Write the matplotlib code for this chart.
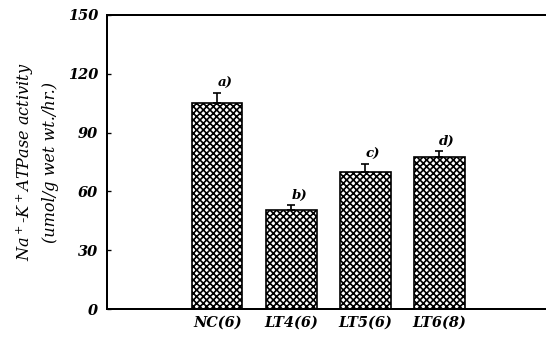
import numpy as np
import matplotlib.pyplot as plt

groups = ['NC(6)', 'LT4(6)', 'LT5(6)', 'LT6(8)']
activity = [105, 50.5, 70, 77.5]
sem = [5, 2.5, 4, 3]
letters = ['a)', 'b)', 'c)', 'd)']
yticks = [0, 30, 60, 90, 120, 150]

DPI = 80
plt.rcParams['hatch.linewidth'] = 1.5
font = dict(family='DejaVu Serif', weight='bold', style='italic')

fig = plt.figure(figsize=(546 / DPI, 340 / DPI), dpi=DPI)
ax = fig.add_axes([0.196, 0.091, 0.804, 0.865])

x = np.arange(len(groups))
ax.bar(x, activity, width=0.68, color='white', edgecolor='black',
       linewidth=1.5, hatch='xxxx', zorder=2)
ax.errorbar(x, activity, yerr=[np.zeros(len(sem)), sem], fmt='none',
            ecolor='black', elinewidth=1.5, capsize=4, capthick=1.5, zorder=3)

for xi, v, s, lab in zip(x, activity, sem, letters):
    ax.annotate(lab, (xi, v + s), xytext=(7, 3), textcoords='offset points',
                ha='center', va='bottom', fontsize=12, **font)

ax.set_xlim(-1.49, 4.44)
ax.set_ylim(0, 150)
ax.set_yticks(yticks)
ax.set_yticklabels([str(t) for t in yticks], fontsize=13, **font)
ax.set_xticks(x)
ax.set_xticklabels(groups, fontsize=13, **font)
ax.tick_params(axis='x', length=0, pad=6)
ax.tick_params(axis='y', direction='in', length=4, width=1.2, pad=8)

ax.spines['right'].set_visible(False)
for s in ['left', 'top', 'bottom']:
    ax.spines[s].set_linewidth(1.8)

ax.set_ylabel('Na$^+$-K$^+$ATPase activity\n(umol/g wet wt./hr.)',
              fontsize=14.5, labelpad=8, linespacing=1.45,
              family='DejaVu Serif', style='italic')

fig.savefig('out.png', dpi=DPI)
